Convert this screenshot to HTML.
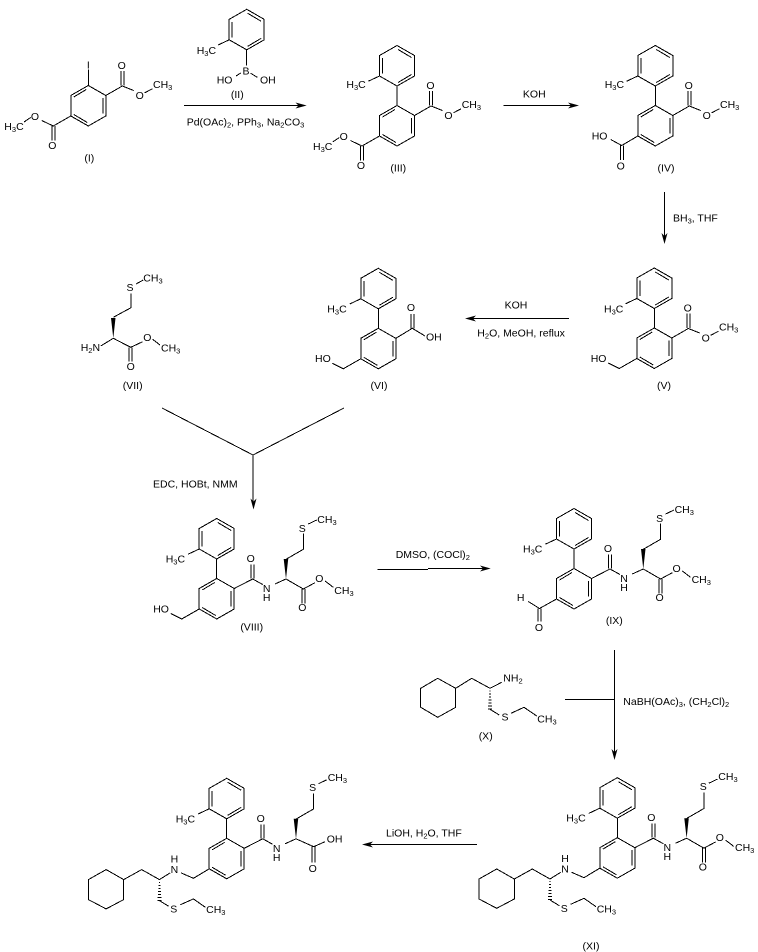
<!DOCTYPE html>
<html><head><meta charset="utf-8"><style>
html,body{margin:0;padding:0;background:#fff}
svg{display:block}
text{font:10.5px "Liberation Sans",sans-serif;fill:#000}
.c{text-anchor:middle}
.l path,path.l{fill:none;stroke:#000;stroke-width:1;shape-rendering:crispEdges}
.s{font-size:7.5px}
</style></head><body>
<svg width="758" height="952" viewBox="0 0 758 952" xmlns="http://www.w3.org/2000/svg">
<defs>
<path id="ra" class="l" d="M0-60L17.5-50V-29.5L0-19.5L-17.5-29.5V-50ZM-14.5-47.5V-32M1-56L14.5-48M14.5-31L1-23"/>
<path id="rb" class="l" d="M0 0L17.5 10V30.5L0 40.5L-17.5 30.5V10ZM-14.5 11.5L-2 4M14.5 12.5V28M-14.5 29L-1 37"/>
<path id="bi" class="l" d="M0-19.5V0M-17.5-29.5L-28.6-24.3"/>
<path id="es" class="l" d="M17.5 10L34 0.5L45.4 5M32.5 0V-14.3M35.5 0V-14.3M56.4 7.3L64 3.3"/>
<path id="ch2oh" class="l" d="M-17.5 30.5L-35 40.5L-46 35"/>
<path id="lest" class="l" d="M-17.5 30.5L-35 40.5L-46.6 35M-36.5 40.5V55M-33.5 40.5V55M-57.6 32L-64.3 36.5"/>
<g id="pep">
<path class="l" d="M17.5 10L36 0.5L46 6M34.5 0V-14M37.5 0V-14M58.3 5.5L69.3 0.5M69.3-19.2L86.6-29.2V-45M91.6-54.5L100-58.5"/>
<path d="M69.3 0.5L67-19.5L71.5-19.5Z"/>
</g>
<g id="amine">
<path class="l" d="M-17.5 30.5L-33.3 40L-45.6 34.6M-56.6 34.6L-67.3 41.3L-85 31.3L-103 41.3V61.3L-120.6 70.6L-138.3 61.3V41.3L-120.6 31.3L-103 41.3M-46.6 66.6L-33.3 60.6L-21.3 69M-67.3 62.3L-58 68"/>
<path class="l" d="M-67.8 44h1M-68.3 47h2M-68.3 50h2M-68.8 53h3M-68.8 56h3M-69.3 59h4M-69.3 62h4"/>
</g>
</defs>

<!-- I -->
<g transform="translate(88.3,85.5)">
<use href="#rb"/><use href="#es"/><use href="#lest"/>
<path class="l" d="M0 0V-16"/>
<text class="c" x="0" y="-17">I</text>
<text class="c" x="33.4" y="-16.5">O</text>
<text class="c" x="51.4" y="13.5">O</text>
<text x="64.7" y="2.5">CH<tspan class="s" dy="2">3</tspan></text>
<text class="c" x="-36" y="63.5">O</text>
<text class="c" x="-53.3" y="34.5">O</text>
<text x="-84" y="44.5">H<tspan class="s" dy="2">3</tspan><tspan dy="-2">C</tspan></text>
</g>
<text class="c" x="89.3" y="161.5">(I)</text>

<!-- II -->
<g transform="translate(246.7,69.3)">
<use href="#ra"/>
<path class="l" d="M-17.5-29.5L-28.6-24.3M0-19.5V-4M-10.7 6.7L-6 3.7M4 4L10.6 8"/>
<text x="-50" y="-15.5">H<tspan class="s" dy="2">3</tspan><tspan dy="-2">C</tspan></text>
<text class="c" x="-0.7" y="5">B</text>
<text x="-30" y="14.2">HO</text>
<text x="13.3" y="14.2">OH</text>
</g>
<text class="c" x="237.3" y="98">(II)</text>
<path class="l" d="M184 105.5H300"/><path d="M306.7 105.5L295.5 102.5L298.5 105.5L295.5 108.5Z"/>
<text x="186.7" y="125.5">Pd(OAc)<tspan class="s" dy="2">2</tspan><tspan dy="-2">, PPh</tspan><tspan class="s" dy="2">3</tspan><tspan dy="-2">, Na</tspan><tspan class="s" dy="2">2</tspan><tspan dy="-2">CO</tspan><tspan class="s" dy="2">3</tspan></text>

<!-- III -->
<g transform="translate(397,105.5)">
<use href="#ra"/><use href="#rb"/><use href="#bi"/><use href="#es"/><use href="#lest"/>
<text x="-50.6" y="-17.5">H<tspan class="s" dy="2">3</tspan><tspan dy="-2">C</tspan></text>
<text class="c" x="33.4" y="-16.5">O</text>
<text class="c" x="51.4" y="13.5">O</text>
<text x="64.7" y="2.5">CH<tspan class="s" dy="2">3</tspan></text>
<text class="c" x="-36" y="63.5">O</text>
<text class="c" x="-53.3" y="34.5">O</text>
<text x="-84" y="44.5">H<tspan class="s" dy="2">3</tspan><tspan dy="-2">C</tspan></text>
</g>
<text class="c" x="398.3" y="171.5">(III)</text>
<path class="l" d="M503.3 105.5H573"/><path d="M579 105.5L568 102.5L571 105.5L568 108.5Z"/>
<text class="c" x="534.3" y="97.5">KOH</text>

<!-- IV -->
<g transform="translate(655.3,105.5)">
<use href="#ra"/><use href="#rb"/><use href="#bi"/><use href="#es"/>
<path class="l" d="M-17.5 30.5L-33.6 40L-44.6 34M-35 40V54.5M-32 40V54.5"/>
<text x="-50.6" y="-17.5">H<tspan class="s" dy="2">3</tspan><tspan dy="-2">C</tspan></text>
<text class="c" x="33.4" y="-16.5">O</text>
<text class="c" x="51.4" y="13.5">O</text>
<text x="64.7" y="2.5">CH<tspan class="s" dy="2">3</tspan></text>
<text x="-63.6" y="34">HO</text>
<text class="c" x="-34.6" y="64">O</text>
</g>
<text class="c" x="666" y="171.5">(IV)</text>
<path class="l" d="M664.5 192V238"/><path d="M664.5 244L661.5 233L664.5 236L667.5 233Z"/>
<text x="673" y="221.5">BH<tspan class="s" dy="2">3</tspan><tspan dy="-2">, THF</tspan></text>

<!-- V -->
<g transform="translate(654.3,328)">
<use href="#ra"/><use href="#rb"/><use href="#bi"/><use href="#es"/><use href="#ch2oh"/>
<text x="-50.3" y="-15.5">H<tspan class="s" dy="2">3</tspan><tspan dy="-2">C</tspan></text>
<text class="c" x="33.4" y="-16.5">O</text>
<text class="c" x="51.4" y="13.5">O</text>
<text x="64.7" y="2.5">CH<tspan class="s" dy="2">3</tspan></text>
<text x="-63.6" y="34">HO</text>
</g>
<text class="c" x="664" y="389">(V)</text>
<path class="l" d="M569 318.5H471"/><path d="M465 318.5L476 315.5L473 318.5L476 321.5Z"/>
<text class="c" x="516" y="308.5">KOH</text>
<text x="477.3" y="336.5">H<tspan class="s" dy="2">2</tspan><tspan dy="-2">O, MeOH, reflux</tspan></text>

<!-- VI -->
<g transform="translate(378.3,328.3)">
<use href="#ra"/><use href="#rb"/><use href="#bi"/><use href="#ch2oh"/>
<path class="l" d="M17.5 10L34 0L46.7 7.7M32.5 0V-14.3M35.5 0V-14.3"/>
<text x="-51" y="-16">H<tspan class="s" dy="2">3</tspan><tspan dy="-2">C</tspan></text>
<text class="c" x="32.7" y="-17.5">O</text>
<text x="47.7" y="12">OH</text>
<text x="-63.3" y="33.5">HO</text>
</g>
<text class="c" x="379" y="389">(VI)</text>

<!-- VII -->
<path class="l" d="M136 284L143.3 280M131 293.3V307.7L113.3 317.3M113.3 338.3L100.7 346M113.3 338.3L130.7 347.3L142.7 341.7M129.2 347.3V361.7M132.2 347.3V361.7M152.7 339.3L160 345"/>
<path d="M113.3 338.3L111 318L115.5 318Z"/>
<text x="143.3" y="281.5">CH<tspan class="s" dy="2">3</tspan></text>
<text class="c" x="130" y="291">S</text>
<text x="80.7" y="351">H<tspan class="s" dy="2">2</tspan><tspan dy="-2">N</tspan></text>
<text class="c" x="147.3" y="341">O</text>
<text class="c" x="130.7" y="370">O</text>
<text x="161" y="351.5">CH<tspan class="s" dy="2">3</tspan></text>
<text class="c" x="132.7" y="389">(VII)</text>

<!-- merge -->
<path class="l" d="M162 408L253 455L344 408M253 455V503"/><path d="M253.5 509.5L250.5 498.5L253.5 501.5L256.5 498.5Z"/>
<text x="153" y="487.5">EDC, HOBt, NMM</text>

<!-- VIII -->
<g transform="translate(216.7,578.5)">
<use href="#ra"/><use href="#rb"/><use href="#bi"/><use href="#pep"/><use href="#ch2oh"/>
<path class="l" d="M69.3 0.5L86.6 10.5L98.3 4.2M85.1 10.5V24.8M88.1 10.5V24.8M108.3 2.5L116.6 8.8"/>
<text x="-51" y="-16">H<tspan class="s" dy="2">3</tspan><tspan dy="-2">C</tspan></text>
<text class="c" x="34" y="-16.5">O</text>
<text class="c" x="50" y="13.5">N</text>
<text class="c" x="50" y="22.5">H</text>
<text class="c" x="85.6" y="-46.5">S</text>
<text x="100.6" y="-55.5">CH<tspan class="s" dy="2">3</tspan></text>
<text class="c" x="85.6" y="32.7">O</text>
<text class="c" x="102.6" y="3.5">O</text>
<text x="117.6" y="15.7">CH<tspan class="s" dy="2">3</tspan></text>
<text x="-63.5" y="34">HO</text>
</g>
<text class="c" x="251.7" y="630.5">(VIII)</text>
<path class="l" d="M377.3 569.5H428M428 568.5H485"/><path d="M490.7 568.5L480 565.5L483 568.5L480 571.5Z"/>
<text x="395.7" y="558">DMSO, (COCl)<tspan class="s" dy="2">2</tspan></text>

<!-- IX -->
<g transform="translate(574,568.5)">
<use href="#ra"/><use href="#rb"/><use href="#bi"/><use href="#pep"/>
<path class="l" d="M69.3 0.5L86.6 10.5L98.3 4.2M85.1 10.5V24.8M88.1 10.5V24.8M108.3 2.5L116.6 8.8M-17.5 30.5L-34.5 40L-45.7 33M-36 40V53M-33 40V53"/>
<text x="-51" y="-16">H<tspan class="s" dy="2">3</tspan><tspan dy="-2">C</tspan></text>
<text class="c" x="34" y="-16.5">O</text>
<text class="c" x="50" y="13.5">N</text>
<text class="c" x="50" y="22.5">H</text>
<text class="c" x="85.6" y="-46.5">S</text>
<text x="100.6" y="-55.5">CH<tspan class="s" dy="2">3</tspan></text>
<text class="c" x="85.6" y="32.7">O</text>
<text class="c" x="102.6" y="3.5">O</text>
<text x="117.6" y="14.5">CH<tspan class="s" dy="2">3</tspan></text>
<text class="c" x="-53.3" y="32.5">H</text>
<text class="c" x="-35" y="62.3">O</text>
</g>
<text class="c" x="614.3" y="624">(IX)</text>

<!-- X -->
<path class="l" d="M437.7 678.3L455.7 688.3V707.3L437.7 717.3L420.7 707.3V688.3ZM455.7 688.3L471.7 678.3L490 688.3L501.7 682.3M490 709.3L499.3 715M511 713.3L524 707.3L536.7 716"/>
<path class="l" d="M489.5 691h1M489 694h2M489 697h2M488.5 700h3M488.5 703h3M488 706h4M488 709h4"/>
<text x="503.3" y="681.5">NH<tspan class="s" dy="2">2</tspan></text>
<text class="c" x="505" y="720.5">S</text>
<text x="537.3" y="722.5">CH<tspan class="s" dy="2">3</tspan></text>
<text class="c" x="485.7" y="739.5">(X)</text>
<path class="l" d="M614.5 650V753M565 699.5H614"/><path d="M614.5 760L611.5 749L614.5 752L617.5 749Z"/>
<text x="623.3" y="705">NaBH(OAc)<tspan class="s" dy="2">3</tspan><tspan dy="-2">, (CH</tspan><tspan class="s" dy="2">2</tspan><tspan dy="-2">Cl)</tspan><tspan class="s" dy="2">2</tspan></text>

<!-- XI -->
<g transform="translate(617.3,837.7)">
<use href="#ra"/><use href="#rb"/><use href="#bi"/><use href="#pep"/><use href="#amine"/>
<path class="l" d="M69.3 0.5L86.6 10.5L98.3 4.2M85.1 10.5V24.8M88.1 10.5V24.8M108.3 2.5L116.6 8.8"/>
<text x="-51" y="-16">H<tspan class="s" dy="2">3</tspan><tspan dy="-2">C</tspan></text>
<text class="c" x="34" y="-16.5">O</text>
<text class="c" x="50" y="13.5">N</text>
<text class="c" x="50" y="22.5">H</text>
<text class="c" x="86" y="-47.5">S</text>
<text x="101" y="-57.5">CH<tspan class="s" dy="2">3</tspan></text>
<text class="c" x="85.6" y="32.7">O</text>
<text class="c" x="102.6" y="3.5">O</text>
<text x="117.7" y="13.5">CH<tspan class="s" dy="2">3</tspan></text>
<text class="c" x="-52.3" y="34.8">N</text>
<text class="c" x="-52.3" y="24.1">H</text>
<text class="c" x="-53" y="74.1">S</text>
<text x="-20.6" y="74.8">CH<tspan class="s" dy="2">3</tspan></text>
</g>
<text class="c" x="591" y="949.5">(XI)</text>
<path class="l" d="M477 844.5H368"/><path d="M362 844.5L373 841.5L370 844.5L373 847.5Z"/>
<text x="386" y="836.5">LiOH, H<tspan class="s" dy="2">2</tspan><tspan dy="-2">O, THF</tspan></text>

<!-- XII -->
<g transform="translate(226.7,838.3)">
<use href="#ra"/><use href="#rb"/><use href="#bi"/><use href="#pep"/><use href="#amine"/>
<path class="l" d="M69.3 0.5L87 8.4L98.3 3.4M85.5 8.4V24M88.5 8.4V24"/>
<text x="-51" y="-16">H<tspan class="s" dy="2">3</tspan><tspan dy="-2">C</tspan></text>
<text class="c" x="34" y="-16.5">O</text>
<text class="c" x="50" y="13.5">N</text>
<text class="c" x="50" y="22.5">H</text>
<text class="c" x="86" y="-47.5">S</text>
<text x="101" y="-57.5">CH<tspan class="s" dy="2">3</tspan></text>
<text class="c" x="86" y="33.5">O</text>
<text x="100" y="4.2">OH</text>
<text class="c" x="-52.3" y="34.8">N</text>
<text class="c" x="-52.3" y="24.1">H</text>
<text class="c" x="-53" y="74.1">S</text>
<text x="-20.6" y="74.8">CH<tspan class="s" dy="2">3</tspan></text>
</g>
</svg>
</body></html>
